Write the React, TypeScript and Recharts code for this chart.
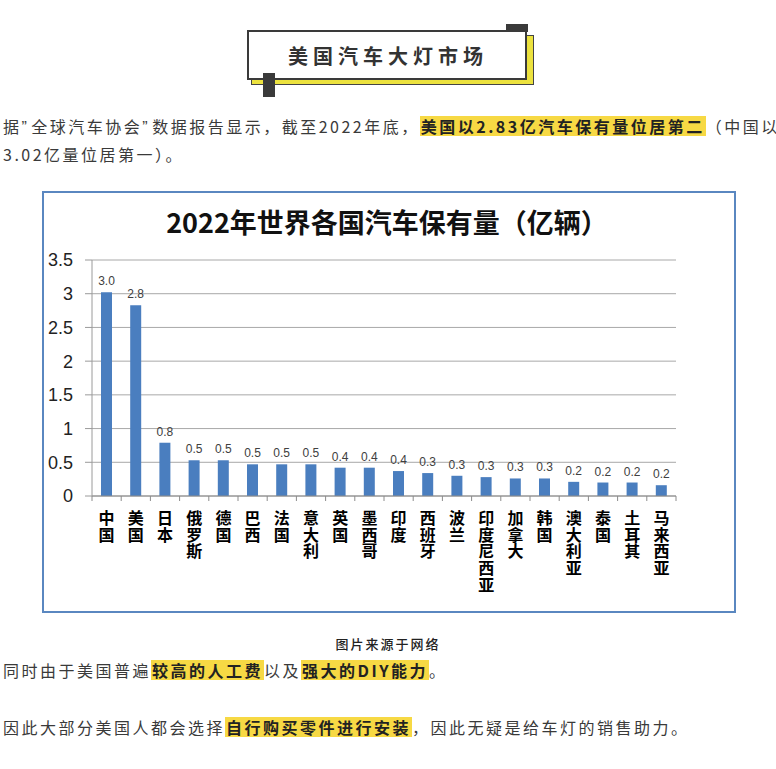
import React from 'react';
import { BarChart, Bar, XAxis, YAxis, CartesianGrid, LabelList } from 'recharts';

const categories = ['中国', '美国', '日本', '俄罗斯', '德国', '巴西', '法国', '意大利', '英国', '墨西哥', '印度', '西班牙', '波兰', '印度尼西亚', '加拿大', '韩国', '澳大利亚', '泰国', '土耳其', '马来西亚'];
const values = [3.02, 2.83, 0.79, 0.53, 0.53, 0.47, 0.47, 0.47, 0.42, 0.42, 0.37, 0.34, 0.3, 0.28, 0.26, 0.26, 0.21, 0.2, 0.2, 0.16];
const yTicks = [0, 0.5, 1, 1.5, 2, 2.5, 3, 3.5];

const headerTitle = '美国汽车大灯市场';
const chartTitle = '2022年世界各国汽车保有量（亿辆）';
const caption = '图片来源于网络';

const data = categories.map((name, i) => ({ name, value: values[i] }));

const CJK = '"Noto Sans CJK SC", "Noto Sans", sans-serif';
const LAT = '"Liberation Sans", Arial, sans-serif';
const HL = '#f7d944';

function CatTick(props: any) {
  const { x, y, payload, index } = props;
  const half = payload && typeof payload.offset === 'number' && payload.offset > 0 ? payload.offset : 14.6;
  const chars = Array.from(String(payload.value));
  const last = index === categories.length - 1;
  return (
    <g>
      <line x1={x - half} x2={x - half} y1={y} y2={y + 5} stroke="#8c8c8c" strokeWidth={1} />
      {last && <line x1={x + half} x2={x + half} y1={y} y2={y + 5} stroke="#8c8c8c" strokeWidth={1} />}
      <text x={x} y={y} textAnchor="middle" fontSize={16} fontWeight={700} fill="#000" fontFamily={CJK}>
        {chars.map((c, i) => (
          <tspan key={i} x={x} dy={i === 0 ? 28 : 16.7}>{c}</tspan>
        ))}
      </text>
    </g>
  );
}

const Hl = ({ children }: { children: React.ReactNode }) => (
  <span style={{ display: 'inline-block', background: HL, height: 20, lineHeight: '20px', fontWeight: 700, color: '#222', padding: '0 1px' }}>{children}</span>
);

const Q = ({ children }: { children: React.ReactNode }) => (
  <span style={{ fontFamily: LAT, paddingRight: 2 }}>{children}</span>
);

const lineStyle: React.CSSProperties = {
  position: 'absolute',
  left: 3,
  whiteSpace: 'nowrap',
  fontSize: 16,
  letterSpacing: 2.5,
  lineHeight: '28px',
  color: '#3a3a3a',
  fontFamily: CJK,
};

export default function App() {
  return (
    <div style={{ position: 'relative', width: 776, height: 769, background: '#fff', overflow: 'hidden', fontFamily: CJK }}>
      <style>{'body{margin:0;}'}</style>

      {/* header */}
      <div style={{ position: 'absolute', left: 251, top: 35, width: 283, height: 50, background: '#ece23e', border: '1px solid #444', boxSizing: 'border-box' }} />
      <div style={{ position: 'absolute', left: 506, top: 24, width: 22, height: 8, background: '#3a3a3a' }} />
      <div style={{ position: 'absolute', left: 247, top: 30, width: 280, height: 50, background: '#fff', border: '2px solid #3a3a3a', boxSizing: 'border-box', display: 'flex', alignItems: 'center', justifyContent: 'center' }}>
        <span style={{ fontSize: 20, fontWeight: 700, letterSpacing: 5, color: '#333', marginLeft: 2 }}>{headerTitle}</span>
      </div>
      <div style={{ position: 'absolute', left: 263, top: 73, width: 12, height: 24, background: '#3a3a3a' }} />

      {/* paragraph 1 */}
      <div style={{ ...lineStyle, top: 112 }}>
        据<Q>”</Q>全球汽车协会<Q>”</Q>数据报告显示，截至2022年底，<Hl>美国以2.83亿汽车保有量位居第二</Hl>（中国<span style={{ letterSpacing: 0 }}>以</span>
      </div>
      <div style={{ ...lineStyle, top: 140 }}>3.02亿量位居第一）。</div>

      {/* chart frame */}
      <div style={{ position: 'absolute', left: 42, top: 191, width: 694, height: 422, border: '2px solid #5a87c0', boxSizing: 'border-box', background: '#fff' }} />
      <div style={{ position: 'absolute', left: 40, top: 205, width: 694, textAlign: 'center', fontSize: 27, fontWeight: 700, color: '#111', lineHeight: '34px', whiteSpace: 'nowrap' }}>
        {chartTitle}
      </div>
      <div style={{ position: 'absolute', left: 0, top: 0 }}>
        <BarChart width={776} height={620} data={data} margin={{ top: 260, right: 100, bottom: 24, left: 42 }} barSize={11}>
          <CartesianGrid vertical={false} stroke="#a8a8a8" strokeWidth={1} />
          <XAxis
            dataKey="name"
            interval={0}
            height={100}
            axisLine={{ stroke: '#8c8c8c' }}
            tickLine={false}
            tickSize={0}
            tickMargin={0}
            tick={<CatTick />}
          />
          <YAxis
            domain={[0, 3.5]}
            ticks={yTicks}
            width={50}
            axisLine={{ stroke: '#9a9a9a' }}
            tickLine={{ stroke: '#9a9a9a' }}
            tickSize={7}
            tickMargin={12}
            tick={{ fontSize: 18, fill: '#222', fontFamily: LAT }}
          />
          <Bar dataKey="value" fill="#4a7ebf" isAnimationActive={false}>
            <LabelList
              dataKey="value"
              position="top"
              offset={7}
              formatter={(v: any) => Number(v).toFixed(1)}
              style={{ fontSize: 12, fill: '#404040', fontFamily: LAT }}
            />
          </Bar>
        </BarChart>
      </div>

      {/* caption */}
      <div style={{ position: 'absolute', left: 0, top: 635, width: 776, textAlign: 'center', fontSize: 13, fontWeight: 500, letterSpacing: 2, color: '#222', lineHeight: '18px' }}>
        {caption}
      </div>

      <div style={{ ...lineStyle, top: 656 }}>
        同时由于美国普遍<Hl>较高的人工费</Hl>以及<Hl>强大的DIY能力</Hl>。
      </div>
      <div style={{ ...lineStyle, top: 713 }}>
        因此大部分美国人都会选择<Hl>自行购买零件进行安装</Hl>，因此无疑是给车灯的销售助力。
      </div>
    </div>
  );
}
